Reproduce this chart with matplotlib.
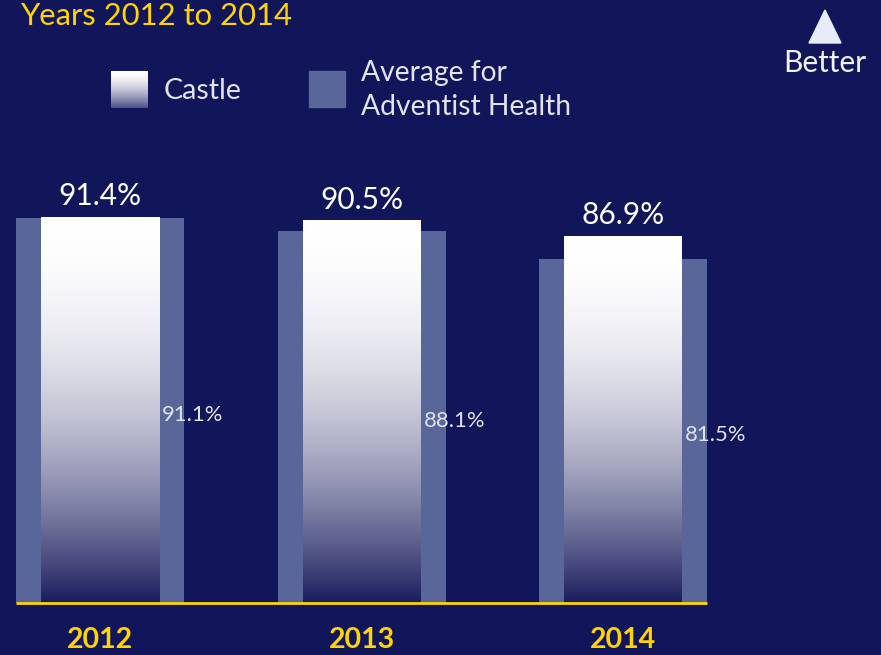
import numpy as np
import matplotlib
matplotlib.use("Agg")
import matplotlib.pyplot as plt
from matplotlib.patches import Polygon, Rectangle
from matplotlib.colors import to_rgb

# ---- data ----
years = ["2012", "2013", "2014"]
castle = [91.4, 90.5, 86.9]
average = [91.1, 88.1, 81.5]
castle_labels = ["91.4%", "90.5%", "86.9%"]
average_labels = ["91.1%", "88.1%", "81.5%"]
title = "Years 2012 to 2014"

# ---- style ----
BG = "#11165a"
SLATE = "#58669a"
YELLOW = "#ffd400"
NAVY = np.array(to_rgb("#1a1d5e"))
WHITE = np.array([1.0, 1.0, 1.0])
LIGHT = "#e2e3ec"
FONT = ["Lato", "DejaVu Sans"]
plt.rcParams["font.family"] = FONT

W, H = 881, 655
DPI = 100
fig = plt.figure(figsize=(W / DPI, H / DPI), dpi=DPI, facecolor=BG)
ax = fig.add_axes([0, 0, 1, 1])
ax.set_facecolor(BG)
ax.set_axis_off()

spacing_px = 261.5
first_px = 100
base_px = 603
scale = 4.222  # px per unit

x = np.arange(len(years))
slate_w = 168 / spacing_px
castle_w = 118 / spacing_px

ax.bar(x, average, width=slate_w, color=SLATE, zorder=1)


def grad_img(n=256, power=2.0, bottom=NAVY):
    t = np.linspace(1, 0, n)  # row 0 = bottom (origin lower)
    f = (t ** power)[:, None]
    img = WHITE[None, :] * (1 - f) + bottom[None, :] * f
    return img[:, None, :]


for xi, v in zip(x, castle):
    ax.imshow(grad_img(), extent=[xi - castle_w / 2, xi + castle_w / 2, 0, v],
              origin="lower", aspect="auto", zorder=2, interpolation="bilinear")

ax.set_xlim(-first_px / spacing_px, (W - first_px) / spacing_px)
ax.set_ylim(-(H - base_px) / scale, base_px / scale)

# baseline
ax.plot([x[0] - slate_w / 2, x[-1] + slate_w / 2], [0, 0], color=YELLOW, lw=2.0,
        zorder=3, solid_capstyle="butt")

# labels
for xi, v, lab in zip(x, castle, castle_labels):
    ax.text(xi, v + 7 / scale, lab, ha="center", va="bottom", color="white",
            fontsize=21.5, zorder=4)
for xi, v, lab in zip(x, average, average_labels):
    ax.text(xi + castle_w / 2 + 3 / spacing_px, v / 2 - 4 / scale, lab, ha="left",
            va="center", color=LIGHT, fontsize=15.8, zorder=4)
for xi, y in zip(x, years):
    ax.text(xi, -(640 - base_px) / scale, y, ha="center", va="center",
            color=YELLOW, fontsize=20.5, fontweight="bold", zorder=4)


def fx(px):
    return px / W


def fy(py):
    return 1 - py / H


# title
fig.text(fx(20), fy(25), title, color=YELLOW, fontsize=22.3, ha="left",
         va="baseline")

# legend
lax = fig.add_axes([fx(111), fy(108), 37 / W, 37 / H])
lax.set_axis_off()
lax.imshow(grad_img(power=1.6, bottom=np.array(to_rgb("#4a4d86"))), origin="lower",
           aspect="auto", extent=[0, 1, 0, 1])
fig.patches.append(Rectangle((fx(309), fy(107)), 36 / W, 36 / H,
                             transform=fig.transFigure, color=SLATE))
fig.text(fx(164), fy(91), "Castle", color=LIGHT, fontsize=20.6, ha="left",
         va="center")
fig.text(fx(361), fy(73), "Average for", color=LIGHT, fontsize=20.3, ha="left",
         va="center")
fig.text(fx(361), fy(107), "Adventist Health", color=LIGHT, fontsize=20.3,
         ha="left", va="center")

# better
fig.patches.append(Polygon([(fx(809), fy(43)), (fx(841), fy(43)), (fx(825), fy(10))],
                           closed=True, transform=fig.transFigure,
                           color="#e8ecf8"))
fig.text(fx(825), fy(63), "Better", color="#f2f3fa", fontsize=21.5, ha="center",
         va="center")

fig.savefig("out.png", dpi=DPI, facecolor=BG)
